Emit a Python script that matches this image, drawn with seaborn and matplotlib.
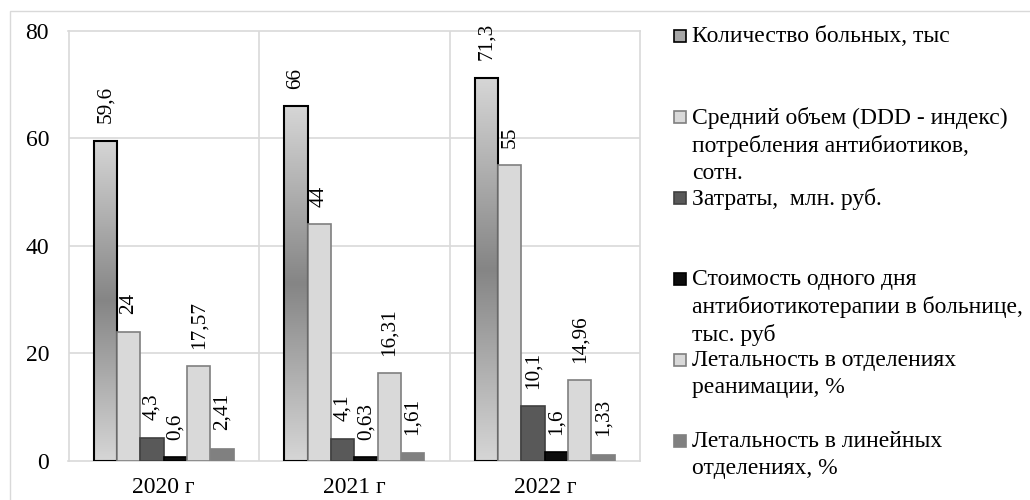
import numpy as np
import pandas as pd
import matplotlib
matplotlib.use("Agg")
import matplotlib.pyplot as plt
from matplotlib.colors import LinearSegmentedColormap
from matplotlib.patches import Rectangle
import seaborn as sns

# ---- data -------------------------------------------------------------
years = ["2020 г", "2021 г", "2022 г"]
series = [
    "Количество больных, тыс",
    "Средний объем (DDD - индекс)\nпотребления антибиотиков,\nсотн.",
    "Затраты,  млн. руб.",
    "Стоимость одного дня\nантибиотикотерапии в больнице,\nтыс. руб",
    "Летальность в отделениях\nреанимации, %",
    "Летальность в линейных\nотделениях, %",
]
patients = [59.6, 66, 71.3]
ddd_volume = [24, 44, 55]
costs = [4.3, 4.1, 10.1]
day_cost = [0.6, 0.63, 1.6]
icu_mortality = [17.57, 16.31, 14.96]
ward_mortality = [2.41, 1.61, 1.33]
y_ticks = [0, 20, 40, 60, 80]

# ---- styles -----------------------------------------------------------
face_colors = ["#a6a6a6", "#d9d9d9", "#595959", "#0d0d0d", "#d9d9d9", "#808080"]
edge_colors = ["#000000", "#7f7f7f", "#404040", "#000000", "#7f7f7f", "#808080"]
edge_widths = [1.5, 1.2, 1.2, 1.2, 1.2, 0.5]
grid_color = "#d9d9d9"

values = [patients, ddd_volume, costs, day_cost, icu_mortality, ward_mortality]
df = pd.DataFrame(
    [(yr, s, v) for s, vals in zip(series, values) for yr, v in zip(years, vals)],
    columns=["year", "series", "value"],
)

sns.set_theme(style="white")
plt.rcParams["font.family"] = ["Liberation Serif", "DejaVu Serif"]
FS = 17
LABEL_FS = 15.3

W, H = 1030, 500
fig = plt.figure(figsize=(W / 100, H / 100), dpi=100)
ax = fig.add_axes([68.5 / W, 1 - 460.7 / H, (640 - 68.5) / W, (460.7 - 31) / H])

sns.barplot(
    data=df, x="year", y="value", hue="series", order=years, hue_order=series,
    palette=face_colors, width=0.735, gap=0, saturation=1, legend=False, ax=ax,
)

for cont, ec, lw in zip(ax.containers, edge_colors, edge_widths):
    for bar in cont:
        bar.set_edgecolor(ec)
        bar.set_linewidth(lw)
        bar.set_zorder(3)

# vertical light-dark-light gradient on the first series
grad_cmap = LinearSegmentedColormap.from_list("bar_grad", ["#d6d6d6", "#858585", "#d6d6d6"])
grad = np.linspace(0, 1, 256).reshape(-1, 1)
for bar in ax.containers[0]:
    bar.set_facecolor("none")
    x0, w, h = bar.get_x(), bar.get_width(), bar.get_height()
    ax.imshow(grad, cmap=grad_cmap, extent=(x0, x0 + w, 0, h), aspect="auto",
              origin="lower", zorder=2.5, interpolation="bilinear")

# value labels, decimal comma
for cont, vals in zip(ax.containers, values):
    labels = [f"{v:g}".replace(".", ",") for v in vals]
    ax.bar_label(cont, labels=labels, rotation=90, padding=12.5, fontsize=LABEL_FS,
                 color="black")

ax.set_xlim(-0.5, 2.5)
ax.set_ylim(0, 80)
ax.set_yticks(y_ticks)
ax.set_xlabel("")
ax.set_ylabel("")
ax.tick_params(axis="both", length=0, labelsize=FS, colors="black")
ax.tick_params(axis="y", pad=14)
ax.tick_params(axis="x", pad=12)

ax.grid(False)
for yv in y_ticks[1:-1]:
    ax.axhline(yv, color=grid_color, lw=1.2, zorder=1)
for xv in [0.5, 1.5]:
    ax.axvline(xv, color=grid_color, lw=1.2, zorder=1)
for sp in ax.spines.values():
    sp.set_visible(True)
    sp.set_color(grid_color)
    sp.set_linewidth(1.2)

# legend with evenly spaced entries
for i, (lab, fc, ec) in enumerate(zip(series, face_colors, edge_colors)):
    yc = 36 + 81 * i
    size = 12
    fig.patches.append(Rectangle((674 / W, 1 - (yc + size / 2) / H), size / W, size / H,
                                 transform=fig.transFigure, facecolor=fc,
                                 edgecolor=ec if i != 5 else fc, lw=1.2))
    fig.text(692 / W, 1 - (yc - 10) / H, lab, fontsize=FS, va="top", ha="left",
             linespacing=1.36, color="black")

# outer chart border
fig.patches.append(Rectangle((10 / W, -0.1), 1.2, 1.1 - 11.5 / H, transform=fig.transFigure,
                             facecolor="none", edgecolor=grid_color, lw=1))

fig.savefig("out.png", dpi=100, facecolor="white")
